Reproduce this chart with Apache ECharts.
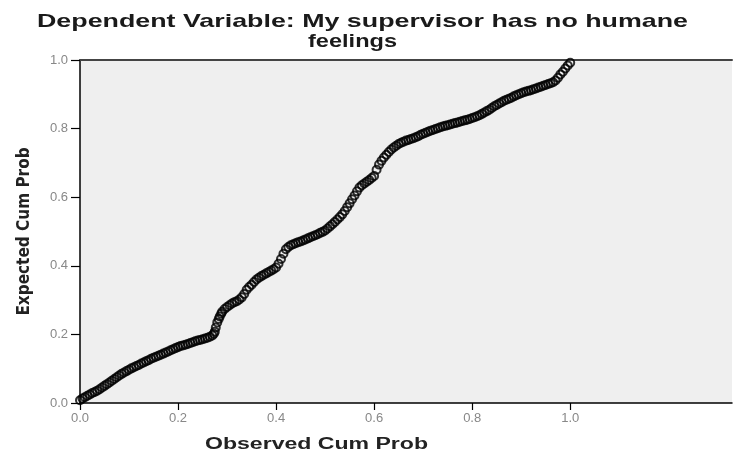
<!DOCTYPE html>
<html>
<head>
<meta charset="utf-8">
<script src="https://cdn.jsdelivr.net/npm/echarts@6/dist/echarts.min.js"></script>
<style>html,body{margin:0;padding:0;background:#fff;}#c{width:734px;height:455px;}</style>
</head>
<body>
<div id="c"></div>
<script>
const titleLine1 = 'Dependent Variable: My supervisor has no humane';
const titleLine2 = 'feelings';
const xAxisName = 'Observed Cum Prob';
const yAxisName = 'Expected Cum Prob';
const xTicks = [0, 0.2, 0.4, 0.6, 0.8, 1.0];
const yTicks = [0, 0.2, 0.4, 0.6, 0.8, 1.0];
const obsProb = [0.000,0.005,0.010,0.015,0.020,0.025,0.030,0.035,0.040,0.045,0.050,0.055,0.060,0.065,0.070,0.075,0.080,0.085,0.090,0.095,
0.100,0.105,0.110,0.115,0.120,0.125,0.130,0.135,0.140,0.145,0.150,0.155,0.160,0.165,0.170,0.175,0.180,0.185,0.190,0.195,
0.200,0.205,0.210,0.215,0.220,0.225,0.230,0.235,0.240,0.245,0.250,0.255,0.260,0.265,0.270,0.273,0.275,0.277,0.280,0.283,0.285,0.288,0.290,0.295,
0.300,0.305,0.310,0.315,0.320,0.325,0.330,0.335,0.340,0.345,0.350,0.355,0.360,0.365,0.370,0.375,0.380,0.385,0.390,0.395,
0.400,0.405,0.410,0.415,0.420,0.425,0.430,0.435,0.440,0.445,0.450,0.455,0.460,0.465,0.470,0.475,0.480,0.485,0.490,0.495,
0.500,0.505,0.510,0.515,0.520,0.525,0.530,0.535,0.540,0.545,0.550,0.555,0.560,0.565,0.570,0.575,0.580,0.585,0.590,0.595,
0.600,0.605,0.610,0.615,0.620,0.625,0.630,0.635,0.640,0.645,0.650,0.655,0.660,0.665,0.670,0.675,0.680,0.685,0.690,0.695,
0.700,0.705,0.710,0.715,0.720,0.725,0.730,0.735,0.740,0.745,0.750,0.755,0.760,0.765,0.770,0.775,0.780,0.785,0.790,0.795,
0.800,0.805,0.810,0.815,0.820,0.825,0.830,0.835,0.840,0.845,0.850,0.855,0.860,0.865,0.870,0.875,0.880,0.885,0.890,0.895,
0.900,0.905,0.910,0.915,0.920,0.925,0.930,0.935,0.940,0.945,0.950,0.955,0.960,0.965,0.970,0.975,0.980,0.985,0.990,0.995,1.000];
const expProb = [0.008,0.013,0.017,0.021,0.025,0.029,0.032,0.036,0.040,0.045,0.050,0.055,0.060,0.065,0.070,0.075,0.080,0.085,0.089,0.093,
0.097,0.101,0.104,0.108,0.111,0.115,0.118,0.122,0.125,0.129,0.132,0.135,0.138,0.141,0.144,0.147,0.150,0.154,0.157,0.160,
0.163,0.166,0.168,0.170,0.172,0.175,0.177,0.180,0.182,0.184,0.186,0.188,0.190,0.193,0.197,0.202,0.208,0.220,0.235,0.245,0.252,0.260,0.266,0.274,
0.280,0.285,0.290,0.294,0.297,0.302,0.308,0.318,0.330,0.338,0.345,0.353,0.360,0.365,0.370,0.374,0.378,0.382,0.386,0.390,
0.395,0.406,0.420,0.435,0.448,0.455,0.460,0.463,0.466,0.469,0.471,0.474,0.477,0.480,0.483,0.486,0.489,0.492,0.496,0.499,
0.503,0.509,0.515,0.521,0.528,0.535,0.542,0.550,0.560,0.571,0.582,0.594,0.605,0.617,0.628,0.635,0.640,0.645,0.650,0.656,
0.662,0.680,0.695,0.706,0.716,0.724,0.732,0.739,0.745,0.750,0.755,0.759,0.762,0.765,0.767,0.770,0.772,0.775,0.778,0.782,
0.785,0.788,0.791,0.794,0.796,0.799,0.801,0.804,0.806,0.808,0.810,0.812,0.814,0.816,0.818,0.820,0.822,0.824,0.826,0.828,
0.831,0.833,0.836,0.839,0.843,0.847,0.851,0.855,0.860,0.865,0.869,0.873,0.877,0.881,0.884,0.887,0.890,0.894,0.897,0.900,
0.903,0.906,0.908,0.910,0.912,0.915,0.917,0.920,0.922,0.925,0.927,0.930,0.932,0.935,0.940,0.948,0.958,0.966,0.975,0.984,0.992];

const points = obsProb.map((v, i) => [v, expProb[i]]);
const fmt = v => v.toFixed(1);

// horizontal stretch factor so text spans the measured width
const cv = document.createElement('canvas').getContext('2d');
function stretch(text, font, target) {
  cv.font = font;
  return target / cv.measureText(text).width;
}
const titleFont = 'bold 19px "Liberation Sans"';
const s1 = stretch(titleLine1, titleFont, 651);
const s2 = stretch(titleLine2, titleFont, 89);
const nameFont = 'bold 16px "Liberation Sans"';
const s3 = stretch(xAxisName, nameFont, 223);

const chart = echarts.init(document.getElementById('c'), null, {renderer: 'canvas'});
chart.setOption({
  animation: false,
  backgroundColor: '#ffffff',
  grid: {left: 80, top: 60, right: 2, bottom: 52, show: true, backgroundColor: '#efefef', borderWidth: 0},
  xAxis: [{
    type: 'value', min: 0, max: 1.33,
    axisLine: {show: true, lineStyle: {color: '#000', width: 1.5}},
    axisTick: {show: true, customValues: xTicks, length: 7, lineStyle: {color: '#000', width: 1.2}},
    axisLabel: {customValues: xTicks, formatter: fmt, color: '#888', fontSize: 13, fontFamily: 'Liberation Sans', margin: 9},
    splitLine: {show: false}
  }, {
    type: 'value', min: 0, max: 1.33, position: 'top',
    axisLine: {show: true, lineStyle: {color: '#444', width: 2}},
    axisTick: {show: false}, axisLabel: {show: false}, splitLine: {show: false}
  }],
  yAxis: {
    type: 'value', min: 0, max: 1, interval: 0.2,
    name: yAxisName, nameLocation: 'middle', nameRotate: 90, nameGap: 47,
    nameTextStyle: {fontFamily: 'Liberation Sans Narrow, DejaVu Sans Condensed', fontWeight: 'bold', fontSize: 17, color: '#222'},
    axisLine: {show: true, lineStyle: {color: '#000', width: 1.5}},
    axisTick: {show: true, length: 9, lineStyle: {color: '#000', width: 1.2}},
    axisLabel: {formatter: fmt, color: '#888', fontSize: 13, fontFamily: 'Liberation Sans', margin: 12},
    splitLine: {show: false}
  },
  graphic: [{
    type: 'text', x: 362.5, y: 12, scaleX: s1,
    style: {text: titleLine1, x: 0, y: 0, align: 'center', verticalAlign: 'top', font: titleFont, fill: '#1a1a1a'}
  }, {
    type: 'text', x: 352.5, y: 32, scaleX: s2,
    style: {text: titleLine2, x: 0, y: 0, align: 'center', verticalAlign: 'top', font: titleFont, fill: '#1a1a1a'}
  }, {
    type: 'text', x: 205, y: 437, scaleX: s3,
    style: {text: xAxisName, x: 0, y: 0, align: 'left', verticalAlign: 'top', font: nameFont, fill: '#222'}
  }],
  series: [{
    type: 'scatter',
    data: points,
    symbol: 'circle',
    symbolSize: 8,
    itemStyle: {color: 'rgba(0,0,0,0)', borderColor: '#000', borderWidth: 2},
    emphasis: {disabled: true}
  }]
});
</script>
</body>
</html>
